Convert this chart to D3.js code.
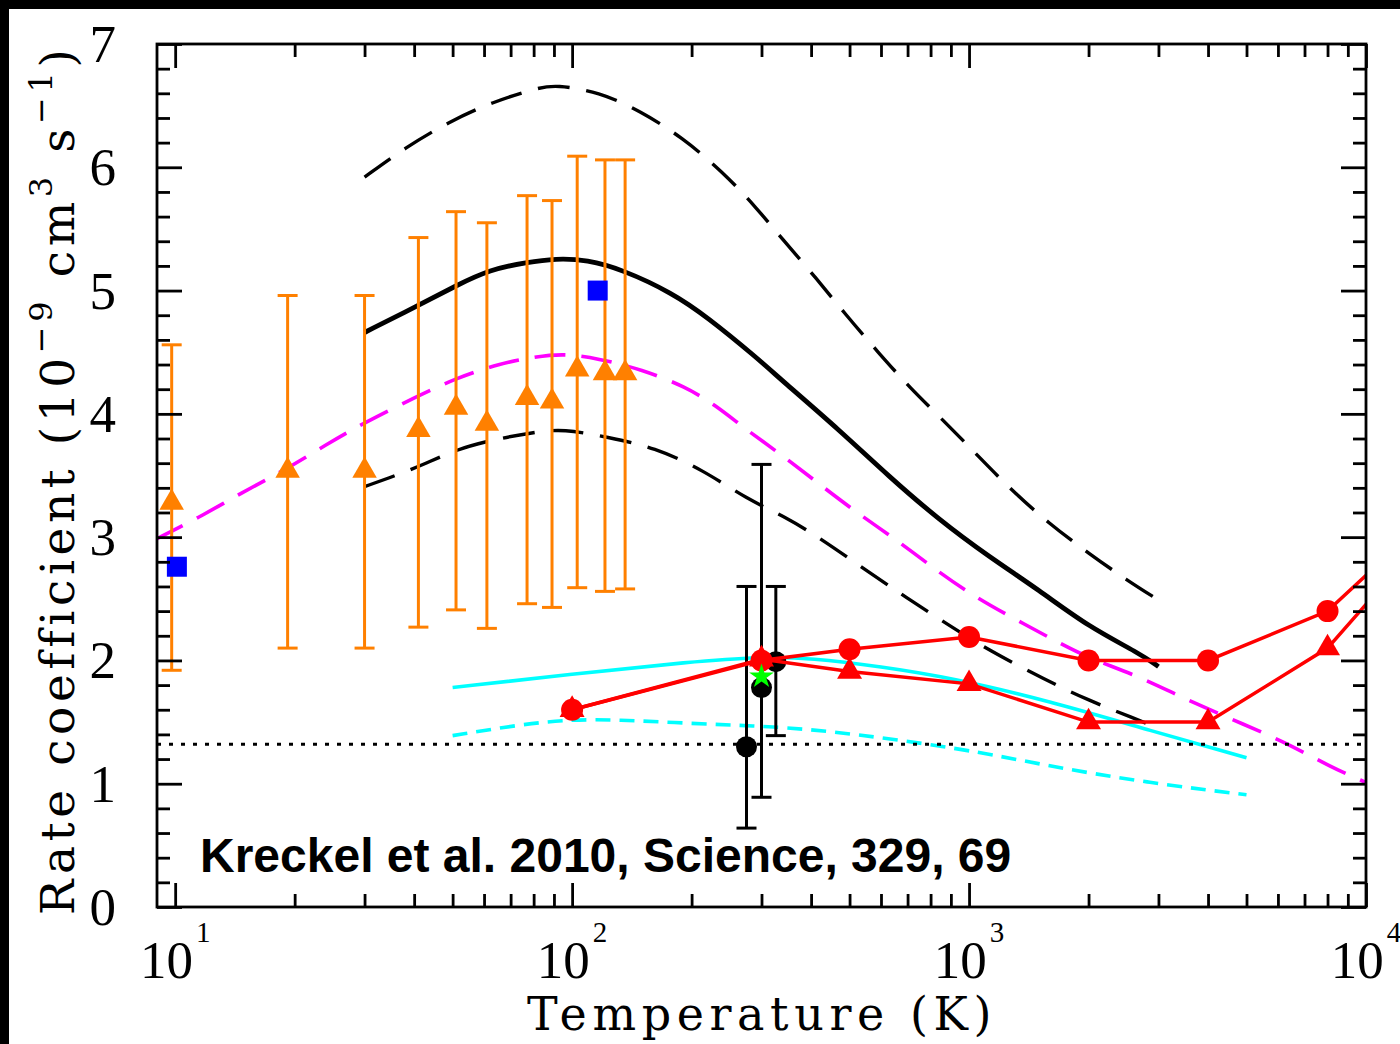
<!DOCTYPE html>
<html>
<head>
<meta charset="utf-8">
<script src="https://cdn.jsdelivr.net/npm/d3@7"></script>
<style>
  body { margin: 0; background: #fff; }
</style>
</head>
<body>
<div id="chart"></div>
<script>
const width = 1400, height = 1044;

// ---- data : temperature (K) and rate coefficient (1e-9 cm^3 s^-1) ----
// upper dashed black theory curve
const upT = [30, 38, 49, 63, 81, 91, 117, 148, 190, 240, 290, 340, 410, 490, 590, 710, 860, 1060, 1280, 1590, 2000, 2500, 3000];
const upK = [5.92, 6.16, 6.37, 6.53, 6.64, 6.67, 6.61, 6.46, 6.24, 5.96, 5.68, 5.41, 5.11, 4.80, 4.50, 4.21, 3.95, 3.65, 3.38, 3.11, 2.87, 2.65, 2.49];
// solid black theory curve
const solidT = [30, 41, 51, 62, 77, 91, 109, 134, 179, 218, 291, 338, 471, 629, 841, 1124, 1502, 2006, 2682, 3000];
const solidK = [4.66, 4.88, 5.04, 5.17, 5.23, 5.26, 5.25, 5.17, 4.98, 4.79, 4.46, 4.27, 3.87, 3.49, 3.14, 2.84, 2.57, 2.27, 2.06, 1.95];
// lower dashed black theory curve
const lowT = [30, 36, 43, 51, 63, 80, 95, 123, 161, 215, 275, 347, 427, 551, 695, 875, 1124, 1564, 1985, 2608, 3000];
const lowK = [3.41, 3.50, 3.60, 3.71, 3.79, 3.85, 3.88, 3.81, 3.73, 3.54, 3.31, 3.16, 2.98, 2.73, 2.51, 2.30, 2.08, 1.84, 1.68, 1.53, 1.45];
// magenta dashed
const magT = [8.9, 11.5, 14.7, 18.8, 24, 30, 40, 51, 66, 80, 95, 116, 150, 193, 230, 275, 333, 412, 520, 656, 827, 1040, 1315, 1690, 2000, 2640, 3440, 4600, 6150, 8200, 10000];
const magK = [2.98, 3.16, 3.36, 3.54, 3.75, 3.93, 4.13, 4.29, 4.41, 4.46, 4.49, 4.45, 4.36, 4.22, 4.07, 3.87, 3.68, 3.45, 3.20, 2.98, 2.73, 2.51, 2.33, 2.14, 2.02, 1.88, 1.70, 1.52, 1.35, 1.13, 1.01];
// cyan solid and dashed
const cyanT = [50, 100, 200, 300, 400, 600, 900, 1600, 2800, 5000];
const cyanK = [1.78, 1.89, 1.99, 2.03, 2.02, 1.95, 1.86, 1.67, 1.44, 1.21];
const cyanDashT = [50, 74, 98, 130, 195, 285, 420, 950, 1600, 2800, 5000];
const cyanDashK = [1.39, 1.48, 1.52, 1.52, 1.49, 1.47, 1.44, 1.29, 1.14, 1.01, 0.91];
// horizontal dotted level
const dottedK = 1.32;
// red curves (circles / triangles)
const redCircT = [100, 300, 500, 1000, 2000, 4000, 8000, 16000];
const redCircK = [1.60, 2.00, 2.09, 2.19, 2.00, 2.00, 2.40, 3.30];
const redTriT = [100, 300, 500, 1000, 2000, 4000, 8000, 16000];
const redTriK = [1.60, 2.01, 1.91, 1.81, 1.50, 1.50, 2.10, 3.20];
// orange measurements with error bars
const orangeT = [9.8, 19.2, 30, 41, 51, 61, 77, 89, 103, 121, 136];
const orangeK = [3.28, 3.54, 3.54, 3.87, 4.05, 3.92, 4.13, 4.10, 4.36, 4.33, 4.33];
const orangeLo = [1.92, 2.10, 2.10, 2.27, 2.41, 2.26, 2.46, 2.43, 2.59, 2.56, 2.58];
const orangeHi = [4.56, 4.96, 4.96, 5.43, 5.64, 5.55, 5.77, 5.73, 6.09, 6.06, 6.06];
// blue squares
const blueT = [10.1, 116];
const blueK = [2.76, 5.0];
// black measurements with error bars
const blackT = [275, 300, 326];
const blackK = [1.30, 1.78, 1.99];
const blackLo = [0.64, 0.89, 1.39];
const blackHi = [2.60, 3.59, 2.60];
// green star
const starT = [300];
const starK = [1.87];

// ticks
const xMajor = [10, 100, 1000, 10000];
const xLabelExp = ["1", "2", "3", "4"];
const yMajor = [0, 1, 2, 3, 4, 5, 6, 7];

const zip = (a, b) => a.map((t, i) => ({ t: t, k: b[i] }));

const svg = d3.select("#chart")
  .append("svg")
  .attr("width", width)
  .attr("height", height)
  .style("display", "block");

svg.append("rect").attr("width", width).attr("height", height).attr("fill", "#fff");
// black frame of the slide (top + left)
svg.append("rect").attr("x", 0).attr("y", 0).attr("width", width).attr("height", 9).attr("fill", "#000");
svg.append("rect").attr("x", 0).attr("y", 0).attr("width", 9).attr("height", height).attr("fill", "#000");

const x = d3.scaleLog().domain([9, 10000]).range([157, 1366]);
const y = d3.scaleLinear().domain([0, 7]).range([907, 44]);

svg.append("clipPath").attr("id", "plotclip")
  .append("rect")
  .attr("x", 157).attr("y", 44)
  .attr("width", 1366 - 157).attr("height", 907 - 44);

const line = d3.line()
  .x(d => x(d.t))
  .y(d => y(d.k))
  .curve(d3.curveBasis);
const straight = d3.line().x(d => x(d.t)).y(d => y(d.k));

const plot = svg.append("g").attr("clip-path", "url(#plotclip)");

// ---- curves ----
plot.append("path").datum(zip(upT, upK))
  .attr("d", line).attr("fill", "none").attr("stroke", "#000")
  .attr("stroke-width", 3.4).attr("stroke-dasharray", "32,17");
plot.append("path").datum(zip(solidT, solidK))
  .attr("d", line).attr("fill", "none").attr("stroke", "#000")
  .attr("stroke-width", 4.8);
plot.append("path").datum(zip(lowT, lowK))
  .attr("d", line).attr("fill", "none").attr("stroke", "#000")
  .attr("stroke-width", 3.4).attr("stroke-dasharray", "32,17");
plot.append("path").datum(zip(magT, magK))
  .attr("d", line).attr("fill", "none").attr("stroke", "#ff00ff")
  .attr("stroke-width", 3.6).attr("stroke-dasharray", "31,16");
plot.append("path").datum(zip(cyanT, cyanK))
  .attr("d", line).attr("fill", "none").attr("stroke", "#00ffff")
  .attr("stroke-width", 3.6);
plot.append("path").datum(zip(cyanDashT, cyanDashK))
  .attr("d", line).attr("fill", "none").attr("stroke", "#00ffff")
  .attr("stroke-width", 3.6).attr("stroke-dasharray", "15,9");
plot.append("path").datum([{ t: 9, k: dottedK }, { t: 10000, k: dottedK }])
  .attr("d", straight).attr("fill", "none").attr("stroke", "#000")
  .attr("stroke-width", 3.2).attr("stroke-dasharray", "4,8");

// ---- orange points ----
const orange = "#ff8000";
const og = plot.append("g");
orangeT.forEach((t, i) => {
  og.append("line").attr("x1", x(t)).attr("x2", x(t))
    .attr("y1", y(orangeLo[i])).attr("y2", y(orangeHi[i]))
    .attr("stroke", orange).attr("stroke-width", 3);
  [orangeLo[i], orangeHi[i]].forEach(v => {
    og.append("line").attr("x1", x(t) - 10).attr("x2", x(t) + 10)
      .attr("y1", y(v)).attr("y2", y(v))
      .attr("stroke", orange).attr("stroke-width", 3);
  });
});
og.selectAll("path.tri").data(zip(orangeT, orangeK)).join("path")
  .attr("transform", d => `translate(${x(d.t)},${y(d.k)})`)
  .attr("d", d3.symbol(d3.symbolTriangle, 260))
  .attr("fill", orange);

// ---- blue squares ----
plot.selectAll("rect.sq").data(zip(blueT, blueK)).join("rect")
  .attr("x", d => x(d.t) - 10).attr("y", d => y(d.k) - 10)
  .attr("width", 20).attr("height", 20).attr("fill", "#0000ff");

// ---- black points ----
const bg = plot.append("g");
blackT.forEach((t, i) => {
  bg.append("line").attr("x1", x(t)).attr("x2", x(t))
    .attr("y1", y(blackLo[i])).attr("y2", y(blackHi[i]))
    .attr("stroke", "#000").attr("stroke-width", 3);
  [blackLo[i], blackHi[i]].forEach(v => {
    bg.append("line").attr("x1", x(t) - 10).attr("x2", x(t) + 10)
      .attr("y1", y(v)).attr("y2", y(v))
      .attr("stroke", "#000").attr("stroke-width", 3);
  });
});
bg.selectAll("circle").data(zip(blackT, blackK)).join("circle")
  .attr("cx", d => x(d.t)).attr("cy", d => y(d.k)).attr("r", 10.5).attr("fill", "#000");

// ---- red curves ----
const red = "#ff0000";
plot.append("path").datum(zip(redCircT, redCircK))
  .attr("d", straight).attr("fill", "none").attr("stroke", red).attr("stroke-width", 3.5);
plot.append("path").datum(zip(redTriT, redTriK))
  .attr("d", straight).attr("fill", "none").attr("stroke", red).attr("stroke-width", 3.5);
plot.selectAll("circle.rc").data(zip(redCircT, redCircK)).join("circle")
  .attr("cx", d => x(d.t)).attr("cy", d => y(d.k)).attr("r", 11).attr("fill", red);
plot.selectAll("path.rt").data(zip(redTriT, redTriK)).join("path")
  .attr("transform", d => `translate(${x(d.t)},${y(d.k)})`)
  .attr("d", d3.symbol(d3.symbolTriangle, 270))
  .attr("fill", red);

// ---- green star ----
plot.selectAll("path.star").data(zip(starT, starK)).join("path")
  .attr("transform", d => `translate(${x(d.t)},${y(d.k)})`)
  .attr("d", d3.symbol(d3.symbolStar, 190))
  .attr("fill", "#00ff00");

// ---- axes ----
const xMinor = [];
[10, 100, 1000].forEach(dec => { for (let m = 2; m <= 9; m++) xMinor.push(dec * m); });
const yMinor = d3.range(0, 7.001, 0.2).filter(v => Math.abs(v - Math.round(v)) > 0.01);

function styleAxis(g) {
  g.select(".domain").remove();
  g.selectAll(".tick line").attr("stroke", "#000").attr("stroke-width", 2.8);
}
svg.append("g").attr("transform", "translate(0,907)")
  .call(d3.axisBottom(x).tickValues(xMajor).tickSize(-24).tickFormat("")).call(styleAxis);
svg.append("g").attr("transform", "translate(0,907)")
  .call(d3.axisBottom(x).tickValues(xMinor).tickSize(-13).tickFormat("")).call(styleAxis);
svg.append("g").attr("transform", "translate(0,44)")
  .call(d3.axisTop(x).tickValues(xMajor).tickSize(-24).tickFormat("")).call(styleAxis);
svg.append("g").attr("transform", "translate(0,44)")
  .call(d3.axisTop(x).tickValues(xMinor).tickSize(-13).tickFormat("")).call(styleAxis);
svg.append("g").attr("transform", "translate(157,0)")
  .call(d3.axisLeft(y).tickValues(yMajor).tickSize(-25).tickFormat("")).call(styleAxis);
svg.append("g").attr("transform", "translate(157,0)")
  .call(d3.axisLeft(y).tickValues(yMinor).tickSize(-13).tickFormat("")).call(styleAxis);
svg.append("g").attr("transform", "translate(1366,0)")
  .call(d3.axisRight(y).tickValues(yMajor).tickSize(-25).tickFormat("")).call(styleAxis);
svg.append("g").attr("transform", "translate(1366,0)")
  .call(d3.axisRight(y).tickValues(yMinor).tickSize(-13).tickFormat("")).call(styleAxis);

svg.append("rect")
  .attr("x", 157).attr("y", 44).attr("width", 1366 - 157).attr("height", 907 - 44)
  .attr("fill", "none").attr("stroke", "#000").attr("stroke-width", 2.8);

// tick labels
const tickFont = "'Liberation Serif', 'DejaVu Serif', serif";
svg.append("g").selectAll("text").data(yMajor).join("text")
  .attr("x", 116).attr("y", d => y(d)).attr("dy", "0.34em")
  .attr("text-anchor", "end")
  .attr("font-family", tickFont).attr("font-size", 53)
  .text(d => d);

const xl = svg.append("g").selectAll("text").data(xMajor).join("text")
  .attr("x", d => x(d)).attr("y", 978)
  .attr("text-anchor", "middle")
  .attr("font-family", tickFont).attr("font-size", 53);
xl.append("tspan").text("10");
xl.append("tspan").attr("dy", -36).attr("font-size", 29).attr("dx", 3)
  .text((d, i) => xLabelExp[i]);

// axis titles
const titleFont = "'DejaVu Serif', serif";
svg.append("text")
  .attr("x", 762).attr("y", 1030)
  .attr("text-anchor", "middle")
  .attr("font-family", titleFont).attr("font-size", 46)
  .attr("letter-spacing", 5.6)
  .text("Temperature (K)");

const yt = svg.append("text")
  .attr("transform", "translate(74,915) rotate(-90)")
  .attr("font-family", titleFont).attr("font-size", 47)
  .attr("letter-spacing", 4.6);
yt.append("tspan").text("Rate coefficient (10");
yt.append("tspan").attr("dy", -22).attr("font-size", 32).text("\u22129");
yt.append("tspan").attr("dy", 22).text(" cm");
yt.append("tspan").attr("dy", -22).attr("font-size", 32).text("3");
yt.append("tspan").attr("dy", 22).text(" s");
yt.append("tspan").attr("dy", -22).attr("font-size", 32).text("\u22121");
yt.append("tspan").attr("dy", 22).text(")");

// reference note
svg.append("text")
  .attr("x", 200).attr("y", 872)
  .attr("font-family", "'Liberation Sans', Arial, sans-serif")
  .attr("font-weight", "bold").attr("font-size", 48)
  .text("Kreckel et al. 2010, Science, 329, 69");
</script>
</body>
</html>
